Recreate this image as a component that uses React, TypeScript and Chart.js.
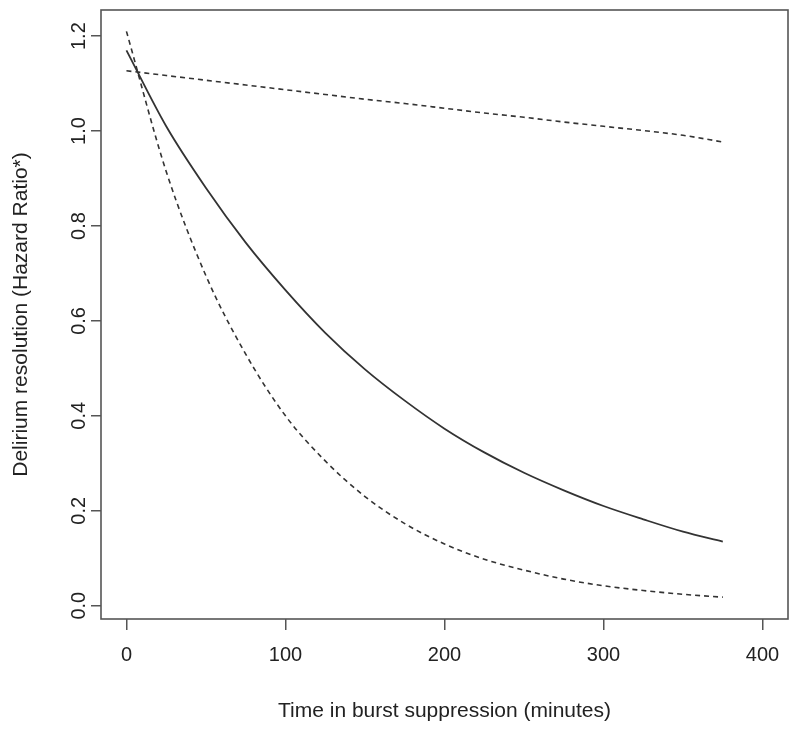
import React, { useEffect, useRef } from 'react';
import { Chart, registerables } from 'chart.js';

Chart.register(...registerables);

// ---- data ----
const minutes = [0, 25, 50, 75, 100, 125, 150, 175, 200, 225, 250, 275, 300, 325, 350, 375];
const hazardRatio = [1.17, 1.01, 0.88, 0.765, 0.665, 0.575, 0.498, 0.432, 0.373, 0.323, 0.28, 0.243, 0.21, 0.182, 0.156, 0.135];
const lowerBound = [1.21, 0.915, 0.695, 0.53, 0.4, 0.305, 0.23, 0.173, 0.13, 0.098, 0.075, 0.056, 0.042, 0.032, 0.024, 0.018];
const upperBound = [1.127, 1.117, 1.107, 1.097, 1.087, 1.077, 1.067, 1.058, 1.048, 1.038, 1.029, 1.019, 1.01, 1.001, 0.991, 0.977];

const xTicks = [0, 100, 200, 300, 400];
const xTickLabels = ['0', '100', '200', '300', '400'];
const yTicks = [0, 0.2, 0.4, 0.6, 0.8, 1.0, 1.2];
const yTickLabels = ['0.0', '0.2', '0.4', '0.6', '0.8', '1.0', '1.2'];

const xTitle = 'Time in burst suppression (minutes)';
const yTitle = 'Delirium resolution (Hazard Ratio*)';

// ---- styles ----
const FONT = '"Liberation Sans", Arial, Helvetica, sans-serif';
const TEXT = '#222222';
const AXIS = '#555555';
const LINE = '#333333';
const TICK_SIZE = 20;
const TITLE_SIZE = 21;
const Y_LABEL_X = 79;

const rBox = {
  id: 'rBox',
  afterDraw(chart: any) {
    const { ctx, chartArea: a, scales } = chart;
    ctx.save();
    ctx.strokeStyle = AXIS;
    ctx.lineWidth = 1.6;
    ctx.strokeRect(a.left, a.top, a.right - a.left, a.bottom - a.top);
    ctx.fillStyle = TEXT;
    ctx.font = `${TICK_SIZE}px ${FONT}`;
    ctx.textAlign = 'center';
    ctx.textBaseline = 'middle';
    const ys = scales.y;
    yTicks.forEach((v, i) => {
      const py = ys.getPixelForValue(v);
      ctx.save();
      ctx.translate(Y_LABEL_X, py);
      ctx.rotate(-Math.PI / 2);
      ctx.fillText(yTickLabels[i], 0, 0);
      ctx.restore();
    });
    ctx.restore();
  },
};

const toPoints = (ys: number[]) => minutes.map((m, i) => ({ x: m, y: ys[i] }));

export default function App() {
  const ref = useRef<HTMLCanvasElement | null>(null);

  useEffect(() => {
    if (!ref.current) return;
    const common = {
      borderColor: LINE,
      pointRadius: 0,
      fill: false,
      cubicInterpolationMode: 'monotone' as const,
    };
    const chart = new Chart(ref.current, {
      type: 'line',
      data: {
        datasets: [
          { ...common, label: 'Hazard ratio', data: toPoints(hazardRatio), borderWidth: 1.8 },
          { ...common, label: 'Lower 95% CI', data: toPoints(lowerBound), borderWidth: 1.6, borderDash: [5, 4] },
          { ...common, label: 'Upper 95% CI', data: toPoints(upperBound), borderWidth: 1.6, borderDash: [5, 4] },
        ],
      },
      options: {
        responsive: false,
        animation: false,
        layout: { padding: { top: 10, right: 12, left: 0, bottom: 0 } },
        plugins: { legend: { display: false }, tooltip: { enabled: false } },
        scales: {
          x: {
            type: 'linear',
            min: -16,
            max: 416,
            afterBuildTicks: (s: any) => {
              s.ticks = xTicks.map((v) => ({ value: v }));
            },
            afterFit: (s: any) => {
              s.height = 115;
            },
            grid: { display: true, drawOnChartArea: false, drawTicks: true, tickLength: 11, color: AXIS, lineWidth: 1.5 },
            border: { display: false },
            ticks: {
              autoSkip: false,
              maxRotation: 0,
              padding: 13,
              color: TEXT,
              font: { size: TICK_SIZE, family: FONT },
              callback: (v: any) => xTickLabels[xTicks.indexOf(Number(v))] ?? '',
            },
            title: {
              display: true,
              text: xTitle,
              color: TEXT,
              font: { size: TITLE_SIZE, family: FONT },
              padding: { top: 0, bottom: 10 },
            },
          },
          y: {
            type: 'linear',
            min: -0.028,
            max: 1.255,
            afterBuildTicks: (s: any) => {
              s.ticks = yTicks.map((v) => ({ value: v }));
            },
            afterFit: (s: any) => {
              s.width = 101;
            },
            grid: { display: true, drawOnChartArea: false, drawTicks: true, tickLength: 10, color: AXIS, lineWidth: 1.5 },
            border: { display: false },
            ticks: { display: false },
            title: {
              display: true,
              text: yTitle,
              color: TEXT,
              font: { size: TITLE_SIZE, family: FONT },
              padding: { top: 9, bottom: 0 },
            },
          },
        },
      },
      plugins: [rBox],
    });
    return () => chart.destroy();
  }, []);

  return (
    <div style={{ position: 'fixed', left: 0, top: 0, width: 800, height: 734, background: '#ffffff' }}>
      <canvas ref={ref} width={800} height={734} />
    </div>
  );
}
